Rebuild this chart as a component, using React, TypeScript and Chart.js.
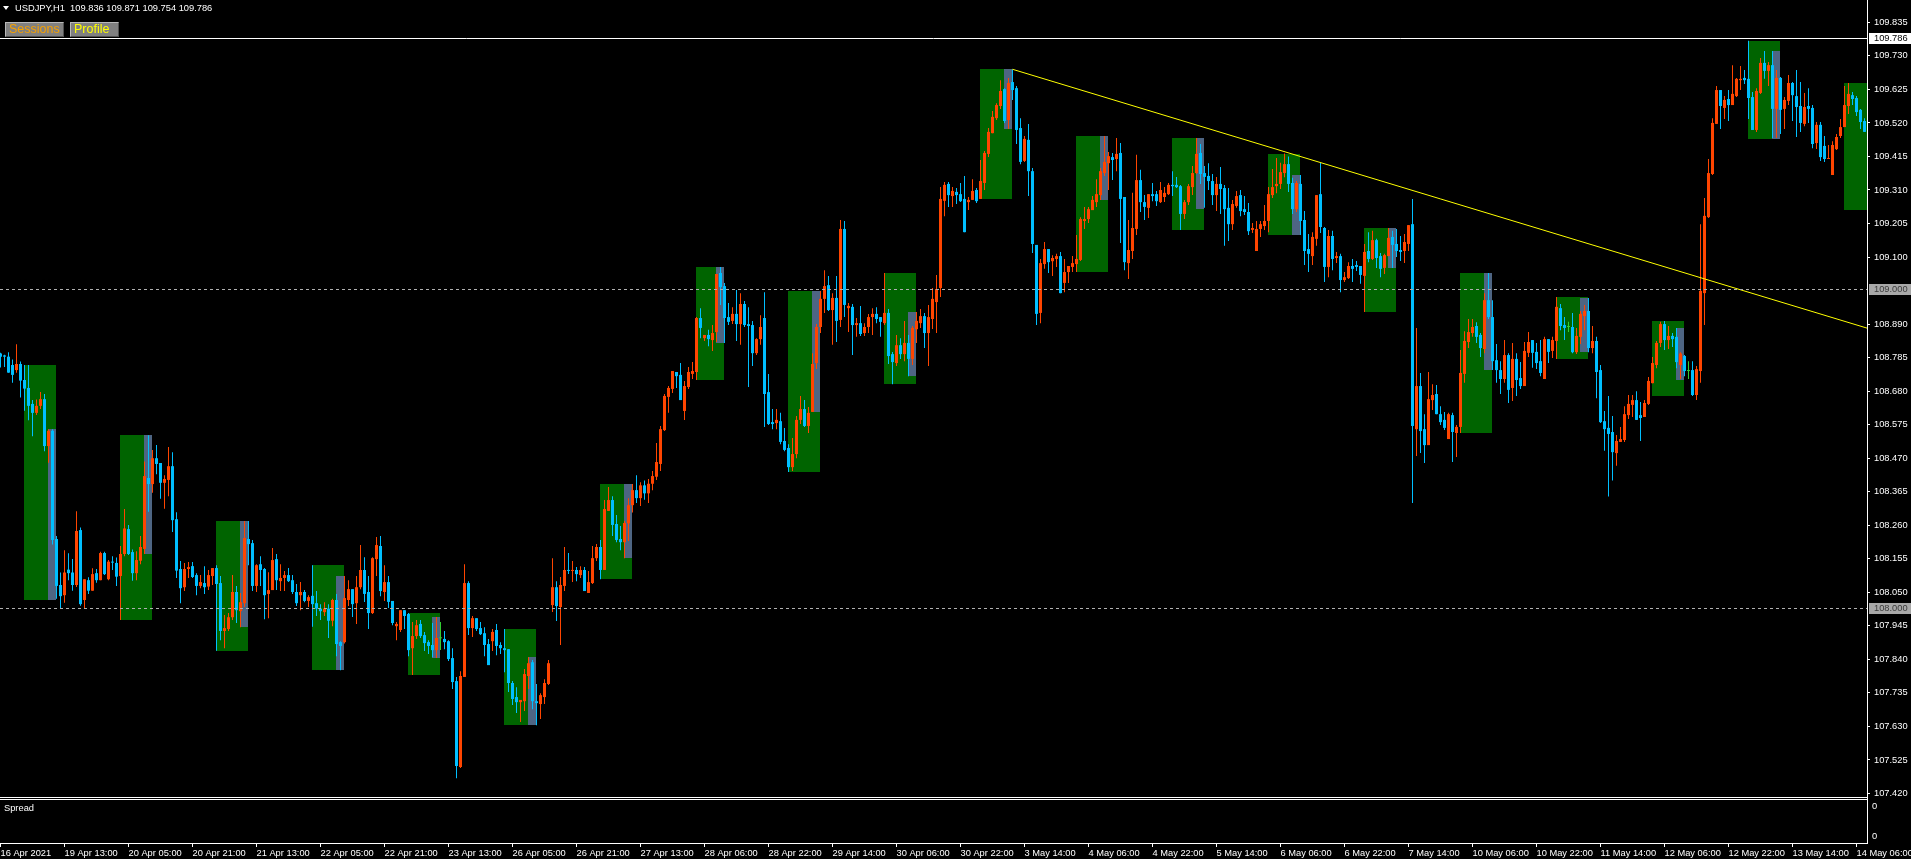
import React, { useEffect, useRef } from "react";
import { Chart, registerables } from "chart.js";

Chart.register(...registerables);

// ---------- data (USDJPY H1, bar index 0 = 16 Apr 2021 21:00) ----------
const opens = [
  108.798,108.792,108.788,108.762,108.746,108.765,108.715,108.690,108.640,108.612,
  108.634,108.655,108.508,108.556,108.217,108.073,108.041,108.121,108.112,108.073,
  108.245,108.026,108.088,108.055,108.110,108.088,108.173,108.091,108.146,108.142,
  108.101,108.170,108.248,108.176,108.110,108.149,108.186,108.408,108.389,108.470,
  108.455,108.393,108.402,108.445,108.279,108.123,108.066,108.123,108.132,108.104,
  108.070,108.079,108.068,108.101,108.126,108.079,107.929,107.935,107.972,108.051,
  107.991,108.016,108.217,108.204,108.070,108.138,108.123,108.045,108.057,108.154,
  108.085,108.095,108.104,108.088,108.051,108.041,108.051,108.023,108.039,108.016,
  107.999,107.988,107.999,107.961,108.026,107.894,107.894,108.026,108.060,108.016,
  108.066,108.120,108.051,107.985,108.154,108.195,108.051,108.082,108.023,107.944,
  107.932,107.994,107.982,107.875,107.913,107.951,107.916,107.894,107.885,107.869,
  107.906,107.904,107.897,107.844,107.772,107.503,107.785,108.079,107.938,107.969,
  107.938,107.922,107.888,107.897,107.932,107.885,107.875,107.872,107.766,107.722,
  107.706,107.709,107.788,107.831,107.709,107.700,107.722,107.763,108.010,108.066,
  108.004,108.070,108.120,108.117,108.120,108.104,108.120,108.048,108.079,108.157,
  108.192,108.120,108.305,108.339,108.264,108.217,108.207,108.266,108.323,108.370,
  108.345,108.385,108.360,108.390,108.412,108.452,108.558,108.662,108.687,108.740,
  108.731,108.618,108.693,108.734,108.740,108.909,108.846,108.856,108.840,108.865,
  109.050,109.009,108.912,108.900,108.922,108.890,108.953,108.890,108.887,108.799,
  108.843,108.909,108.677,108.583,108.580,108.586,108.524,108.502,108.442,108.483,
  108.590,108.624,108.571,108.615,108.768,108.881,108.969,109.012,108.934,108.972,
  108.903,109.188,108.940,108.944,108.887,108.893,108.862,108.881,108.912,108.922,
  108.912,108.893,108.925,108.796,108.768,108.824,108.796,108.831,108.781,108.874,
  108.893,108.915,108.862,108.906,108.959,109.003,109.276,109.329,109.291,109.304,
  109.297,109.282,109.272,109.279,109.310,109.282,109.332,109.423,109.488,109.535,
  109.573,109.626,109.529,109.648,109.629,109.504,109.401,109.467,109.369,109.138,
  108.925,109.078,109.125,109.087,109.094,109.103,109.019,109.053,109.069,109.078,
  109.091,109.213,109.219,109.247,109.272,109.294,109.363,109.394,109.413,109.407,
  109.426,109.288,109.081,109.119,109.188,109.341,109.272,109.254,109.297,109.297,
  109.272,109.288,109.297,109.326,109.326,109.322,109.235,109.272,109.319,109.363,
  109.426,109.363,109.354,109.338,109.294,109.329,109.316,109.254,109.203,109.260,
  109.294,109.250,109.241,109.185,109.119,109.188,109.197,109.213,109.294,109.322,
  109.329,109.363,109.391,109.332,109.250,109.329,109.216,109.125,109.103,109.157,
  109.297,109.191,109.069,109.166,109.097,109.103,109.028,109.034,109.072,109.075,
  109.072,109.041,109.119,109.094,109.153,109.103,109.066,109.103,109.163,109.141,
  109.122,109.119,109.141,109.203,108.561,108.696,108.561,108.511,108.652,108.671,
  108.608,108.590,108.530,108.605,108.549,108.568,108.734,108.834,108.862,108.884,
  108.856,108.812,108.965,108.912,108.777,108.746,108.718,108.793,108.690,108.781,
  108.721,108.696,108.800,108.840,108.803,108.774,108.718,108.843,108.806,108.837,
  108.940,108.887,108.881,108.881,108.802,108.850,108.915,108.931,108.815,108.837,
  108.746,108.586,108.565,108.552,108.486,108.521,108.527,108.605,108.637,108.652,
  108.605,108.599,108.640,108.705,108.762,108.831,108.890,108.840,108.853,108.850,
  108.762,108.790,108.743,108.746,108.668,108.743,108.987,109.225,109.360,109.517,
  109.623,109.567,109.595,109.576,109.604,109.654,109.661,109.658,109.601,109.498,
  109.614,109.708,109.683,109.701,109.564,109.661,109.564,109.589,109.645,109.604,
  109.573,109.517,109.573,109.567,109.457,109.514,109.448,109.407,109.357,109.438,
  109.479,109.507,109.573,109.607,109.598,109.561,109.526,
];

const highs = [
  108.800,108.794,108.802,108.779,108.827,108.773,108.762,108.762,108.652,108.654,
  108.677,108.671,108.561,108.561,108.226,108.112,108.182,108.172,108.154,108.304,
  108.253,108.091,108.097,108.125,108.123,108.177,108.177,108.151,108.163,108.159,
  108.195,108.311,108.261,108.184,108.179,108.226,108.460,108.542,108.496,108.511,
  108.455,108.417,108.505,108.489,108.301,108.148,108.142,108.145,108.145,108.110,
  108.104,108.132,108.120,108.126,108.135,108.101,107.979,107.985,108.104,108.070,
  108.048,108.273,108.273,108.214,108.138,108.163,108.126,108.113,108.189,108.170,
  108.138,108.117,108.126,108.104,108.076,108.082,108.057,108.041,108.135,108.054,
  108.013,108.019,108.013,108.030,108.045,107.897,108.101,108.088,108.060,108.101,
  108.198,108.160,108.101,108.160,108.223,108.226,108.135,108.101,108.023,107.957,
  107.994,107.994,107.985,107.957,107.963,107.963,107.926,107.900,107.954,107.973,
  107.957,107.929,107.900,107.875,107.785,107.803,108.138,108.085,107.976,107.969,
  107.957,107.941,107.904,107.935,107.951,107.894,107.935,107.872,107.772,107.753,
  107.713,107.810,107.847,107.838,107.763,107.734,107.778,107.838,108.157,108.085,
  108.098,108.192,108.173,108.148,108.129,108.132,108.129,108.117,108.195,108.201,
  108.214,108.339,108.380,108.351,108.292,108.258,108.273,108.345,108.389,108.417,
  108.395,108.400,108.405,108.430,108.518,108.571,108.671,108.696,108.743,108.740,
  108.768,108.712,108.756,108.771,108.912,108.940,108.856,108.872,108.887,109.047,
  109.069,109.019,108.956,108.943,108.997,108.987,108.962,108.943,108.900,108.846,
  108.918,108.990,108.734,108.624,108.624,108.612,108.565,108.514,108.533,108.602,
  108.665,108.652,108.630,108.799,108.890,108.994,109.059,109.041,108.987,109.041,
  109.216,109.213,108.956,108.953,108.909,108.947,108.893,108.922,108.940,108.943,
  108.912,109.050,108.937,108.803,108.856,108.846,108.900,108.856,108.884,108.928,
  108.937,108.925,108.950,109.003,109.044,109.319,109.335,109.335,109.319,109.316,
  109.332,109.354,109.288,109.344,109.316,109.404,109.432,109.504,109.557,109.582,
  109.654,109.629,109.661,109.688,109.636,109.535,109.479,109.517,109.379,109.138,
  109.094,109.147,109.125,109.106,109.110,109.116,109.094,109.072,109.103,109.169,
  109.225,109.257,109.257,109.291,109.344,109.379,109.479,109.429,109.426,109.473,
  109.457,109.288,109.216,109.301,109.420,109.373,109.294,109.297,109.332,109.307,
  109.335,109.319,109.332,109.369,109.351,109.326,109.279,109.329,109.385,109.473,
  109.454,109.385,109.394,109.360,109.351,109.382,109.326,109.316,109.279,109.307,
  109.310,109.291,109.269,109.207,109.213,109.213,109.263,109.319,109.376,109.410,
  109.395,109.424,109.415,109.348,109.338,109.357,109.244,109.172,109.178,109.294,
  109.395,109.194,109.185,109.182,109.116,109.110,109.053,109.084,109.094,109.088,
  109.072,109.141,109.178,109.182,109.157,109.113,109.110,109.191,109.182,109.188,
  109.166,109.172,109.200,109.282,108.878,108.737,108.608,108.740,108.702,108.699,
  108.633,108.615,108.612,108.612,108.574,108.809,108.868,108.906,108.906,108.896,
  108.862,108.987,109.050,108.965,108.828,108.774,108.840,108.799,108.831,108.799,
  108.771,108.834,108.865,108.840,108.831,108.840,108.850,108.843,108.850,108.975,
  108.953,108.912,108.897,108.925,108.878,108.931,108.950,108.972,108.884,108.850,
  108.762,108.618,108.665,108.602,108.543,108.568,108.633,108.668,108.668,108.680,
  108.646,108.652,108.724,108.787,108.837,108.897,108.900,108.884,108.862,108.878,
  108.802,108.793,108.774,108.774,108.759,109.203,109.285,109.407,109.535,109.636,
  109.623,109.604,109.623,109.701,109.661,109.698,109.686,109.777,109.617,109.629,
  109.723,109.745,109.711,109.745,109.686,109.664,109.601,109.670,109.648,109.686,
  109.648,109.614,109.629,109.576,109.523,109.523,109.479,109.451,109.463,109.485,
  109.532,109.636,109.645,109.617,109.604,109.564,109.535,
];

const lows = [
  108.754,108.756,108.738,108.706,108.738,108.660,108.619,108.589,108.539,108.605,
  108.624,108.492,108.456,108.200,108.030,108.000,108.017,108.088,108.055,108.067,
  108.008,108.000,108.045,108.055,108.080,108.088,108.104,108.088,108.120,108.070,
  107.963,108.163,108.167,108.086,108.088,108.138,108.170,108.302,108.362,108.420,
  108.343,108.312,108.351,108.239,108.095,108.016,108.054,108.095,108.095,108.041,
  108.063,108.045,108.057,108.073,107.867,107.900,107.875,107.929,107.963,107.954,
  107.941,108.004,108.135,108.054,108.051,108.070,107.966,107.969,108.057,108.057,
  108.054,108.054,108.082,108.045,108.007,107.994,108.019,108.004,107.942,107.976,
  107.963,107.976,107.907,107.944,107.850,107.806,107.890,108.007,107.973,107.951,
  108.060,108.020,107.935,107.982,108.101,108.038,108.023,108.001,107.947,107.900,
  107.926,107.935,107.850,107.791,107.904,107.907,107.866,107.857,107.847,107.844,
  107.869,107.872,107.835,107.747,107.468,107.500,107.785,107.916,107.910,107.929,
  107.916,107.850,107.822,107.866,107.853,107.857,107.800,107.738,107.697,107.672,
  107.644,107.678,107.747,107.684,107.634,107.653,107.700,107.760,107.988,107.960,
  107.885,108.054,108.107,108.082,108.085,108.095,108.054,108.048,108.076,108.148,
  108.091,108.120,108.305,108.226,108.207,108.182,108.157,108.211,108.300,108.330,
  108.320,108.340,108.330,108.370,108.402,108.430,108.555,108.612,108.674,108.690,
  108.652,108.590,108.687,108.718,108.715,108.846,108.837,108.821,108.806,108.834,
  108.950,108.831,108.887,108.890,108.837,108.825,108.881,108.693,108.759,108.793,
  108.825,108.568,108.574,108.561,108.561,108.514,108.492,108.427,108.430,108.470,
  108.577,108.568,108.549,108.615,108.749,108.862,108.925,108.931,108.825,108.834,
  108.881,108.912,108.865,108.793,108.850,108.853,108.853,108.862,108.856,108.893,
  108.850,108.887,108.765,108.702,108.759,108.781,108.774,108.727,108.762,108.831,
  108.878,108.815,108.759,108.875,108.862,108.975,109.228,109.257,109.257,109.266,
  109.272,109.178,109.247,109.279,109.269,109.282,109.310,109.413,109.488,109.529,
  109.564,109.520,109.501,109.592,109.454,109.391,109.398,109.291,109.113,108.887,
  108.893,109.063,109.050,109.041,109.069,108.987,108.990,109.019,109.053,109.053,
  109.088,109.188,109.207,109.247,109.257,109.279,109.354,109.310,109.341,109.369,
  109.144,109.059,109.031,109.094,109.169,109.241,109.216,109.222,109.275,109.260,
  109.269,109.272,109.294,109.291,109.316,109.185,109.219,109.263,109.294,109.360,
  109.329,109.254,109.310,109.263,109.244,109.235,109.135,109.150,109.185,109.254,
  109.228,109.232,109.169,109.175,109.119,109.163,109.185,109.178,109.285,109.300,
  109.313,109.350,109.304,109.235,109.241,109.169,109.075,109.053,109.075,109.135,
  109.175,109.022,109.037,109.059,109.081,108.990,109.022,109.031,109.022,109.056,
  109.016,108.928,109.084,109.091,109.066,109.037,109.047,109.103,109.066,109.100,
  109.088,109.081,109.119,108.330,108.477,108.486,108.455,108.511,108.621,108.608,
  108.574,108.558,108.530,108.458,108.474,108.549,108.706,108.815,108.850,108.831,
  108.787,108.799,108.906,108.746,108.706,108.671,108.706,108.643,108.649,108.665,
  108.687,108.696,108.787,108.753,108.749,108.727,108.718,108.768,108.784,108.781,
  108.871,108.840,108.865,108.799,108.796,108.828,108.871,108.802,108.799,108.658,
  108.580,108.493,108.350,108.400,108.446,108.521,108.521,108.593,108.599,108.590,
  108.524,108.599,108.637,108.705,108.752,108.818,108.809,108.812,108.818,108.752,
  108.718,108.727,108.718,108.665,108.652,108.706,108.887,109.222,109.357,109.517,
  109.501,109.532,109.526,109.576,109.601,109.623,109.642,109.532,109.498,109.492,
  109.611,109.658,109.636,109.473,109.473,109.485,109.501,109.576,109.526,109.476,
  109.492,109.510,109.520,109.441,109.438,109.401,109.398,109.407,109.357,109.435,
  109.473,109.507,109.548,109.576,109.542,109.501,109.492,
];

const closes = [
  108.788,108.788,108.738,108.731,108.765,108.713,108.688,108.634,108.612,108.634,
  108.655,108.508,108.556,108.214,108.070,108.038,108.112,108.110,108.073,108.242,
  108.013,108.091,108.055,108.107,108.088,108.173,108.107,108.146,108.143,108.099,
  108.170,108.250,108.170,108.110,108.151,108.192,108.414,108.389,108.470,108.452,
  108.393,108.405,108.445,108.276,108.118,108.063,108.123,108.129,108.098,108.070,
  108.082,108.066,108.104,108.126,108.076,107.929,107.938,107.972,108.051,107.994,
  108.019,108.220,108.201,108.070,108.135,108.120,108.041,108.057,108.151,108.088,
  108.095,108.104,108.085,108.051,108.016,108.051,108.023,108.035,108.013,107.999,
  107.991,107.999,107.961,108.026,107.888,107.882,108.032,108.060,108.013,108.066,
  108.120,108.045,107.985,108.157,108.198,108.054,108.082,108.020,107.954,107.951,
  107.994,107.976,107.869,107.913,107.947,107.913,107.891,107.882,107.869,107.907,
  107.906,107.894,107.841,107.769,107.506,107.788,108.079,107.938,107.969,107.935,
  107.919,107.885,107.822,107.926,107.882,107.875,107.869,107.766,107.716,107.706,
  107.713,107.794,107.828,107.709,107.703,107.728,107.766,107.828,108.066,108.007,
  108.073,108.120,108.117,108.120,108.107,108.120,108.054,108.082,108.157,108.192,
  108.120,108.311,108.339,108.261,108.214,108.207,108.267,108.323,108.370,108.345,
  108.385,108.360,108.390,108.414,108.458,108.561,108.665,108.690,108.743,108.727,
  108.652,108.696,108.740,108.743,108.909,108.878,108.856,108.843,108.862,109.047,
  109.006,108.909,108.897,108.922,108.890,108.953,108.887,108.884,108.799,108.843,
  108.881,108.671,108.577,108.577,108.590,108.521,108.496,108.442,108.483,108.590,
  108.624,108.571,108.612,108.765,108.881,108.969,109.009,108.934,108.972,108.900,
  109.188,108.950,108.947,108.887,108.893,108.859,108.881,108.912,108.922,108.906,
  108.897,108.925,108.790,108.771,108.824,108.796,108.831,108.781,108.878,108.900,
  108.915,108.862,108.912,108.969,109.000,109.282,109.326,109.294,109.307,109.294,
  109.275,109.178,109.279,109.307,109.275,109.338,109.426,109.492,109.539,109.576,
  109.620,109.526,109.645,109.623,109.498,109.398,109.470,109.369,109.141,108.922,
  109.081,109.125,109.084,109.097,109.103,108.987,109.053,109.072,109.081,109.094,
  109.219,109.219,109.250,109.279,109.297,109.369,109.398,109.416,109.404,109.423,
  109.282,109.084,109.122,109.191,109.341,109.272,109.257,109.297,109.291,109.275,
  109.310,109.301,109.326,109.322,109.319,109.235,109.272,109.322,109.363,109.423,
  109.360,109.351,109.338,109.294,109.329,109.313,109.250,109.203,109.266,109.291,
  109.244,109.241,109.181,109.191,109.188,109.203,109.213,109.297,109.319,109.329,
  109.366,109.391,109.329,109.250,109.332,109.213,109.119,109.110,109.163,109.294,
  109.194,109.069,109.166,109.094,109.103,109.028,109.037,109.072,109.063,109.069,
  109.044,109.116,109.094,109.153,109.097,109.063,109.106,109.160,109.138,109.119,
  109.116,109.147,109.200,108.571,108.696,108.555,108.511,108.655,108.668,108.608,
  108.583,108.565,108.608,108.552,108.568,108.737,108.837,108.865,108.881,108.850,
  108.815,108.965,108.912,108.774,108.746,108.718,108.793,108.684,108.781,108.715,
  108.696,108.806,108.834,108.800,108.768,108.737,108.843,108.803,108.840,108.944,
  108.884,108.878,108.881,108.802,108.853,108.922,108.931,108.815,108.837,108.740,
  108.583,108.561,108.546,108.489,108.524,108.530,108.608,108.640,108.652,108.590,
  108.596,108.643,108.712,108.768,108.831,108.890,108.840,108.853,108.843,108.771,
  108.798,108.743,108.743,108.668,108.749,108.994,109.229,109.363,109.520,109.623,
  109.573,109.592,109.576,109.611,109.658,109.658,109.654,109.598,109.498,109.620,
  109.708,109.683,109.701,109.564,109.661,109.561,109.592,109.645,109.607,109.570,
  109.520,109.570,109.564,109.454,109.514,109.413,109.407,109.410,109.451,109.476,
  109.507,109.576,109.611,109.595,109.554,109.523,109.492,
];

// time-axis labels and the bar index each one sits on
const xTickLabels = [
  "16 Apr 2021", "19 Apr 13:00", "20 Apr 05:00", "20 Apr 21:00", "21 Apr 13:00",
  "22 Apr 05:00", "22 Apr 21:00", "23 Apr 13:00", "26 Apr 05:00", "26 Apr 21:00",
  "27 Apr 13:00", "28 Apr 06:00", "28 Apr 22:00", "29 Apr 14:00", "30 Apr 06:00",
  "30 Apr 22:00", "3 May 14:00", "4 May 06:00", "4 May 22:00", "5 May 14:00",
  "6 May 06:00", "6 May 22:00", "7 May 14:00", "10 May 06:00", "10 May 22:00",
  "11 May 14:00", "12 May 06:00", "12 May 22:00", "13 May 14:00", "14 May 06:00",
];
const xTickIndex = [
  0, 16, 32, 48, 64, 80, 96, 112, 128, 144, 160, 176, 192, 208, 224,
  240, 256, 272, 288, 304, 320, 336, 352, 368, 384, 400, 416, 432, 448, 464,
];

const priceTicks = [
  109.835, 109.730, 109.625, 109.520, 109.415, 109.310, 109.205, 109.100,
  108.890, 108.785, 108.680, 108.575, 108.470, 108.365, 108.260, 108.155,
  108.050, 107.945, 107.840, 107.735, 107.630, 107.525, 107.420,
];

// "Sessions" indicator: session boxes (bar index from/to, high/low) and
// the "Profile" block at the end of each session
const sessionStart = [6, 30, 54, 78, 102, 126, 150, 174, 197, 221, 245, 269, 293, 317, 341, 365, 389, 413, 437, 461];
const sessionEnd = [14, 38, 62, 86, 110, 134, 158, 181, 205, 229, 253, 277, 301, 325, 349, 373, 397, 421, 445, 469];
const sessionHigh = [108.762, 108.542, 108.273, 108.135, 107.985, 107.935, 108.389, 109.069, 108.994, 109.050,
  109.689, 109.479, 109.473, 109.424, 109.191, 109.050, 108.975, 108.900, 109.777, 109.645];
const sessionLow = [108.030, 107.967, 107.869, 107.810, 107.794, 107.637, 108.095, 108.718, 108.430, 108.705,
  109.285, 109.056, 109.188, 109.172, 108.931, 108.552, 108.784, 108.668, 109.473, 109.251];
const profileHigh = [108.561, 108.542, 108.273, 108.101, 107.973, 107.847, 108.389, 109.069, 108.994, 108.928,
  109.689, 109.479, 109.473, 109.357, 109.191, 109.050, 108.972, 108.878, 109.745, null];
const profileLow = [108.030, 108.173, 107.944, 107.810, 107.847, 107.637, 108.160, 108.834, 108.618, 108.731,
  109.504, 109.282, 109.254, 109.172, 109.069, 108.749, 108.806, 108.718, 109.473, null];

const levelLines = [109.0, 108.0];
const bidPrice = 109.786;
const trendX = [253, 467];
const trendY = [109.688, 108.876];

const headerSymbol = "USDJPY,H1";
const headerOHLC = [109.836, 109.871, 109.754, 109.786];

// ---------- view / style ----------
const W = 1911;
const MAIN_H = 798;
const SUB_H = 61;
const AXIS_W = 44;
const X_MIN = -0.125;
const X_MAX = 466.625;
const Y_MIN = 107.409;
const Y_MAX = 109.905;
const PROFILE_BARS = 2;
const FONT = "'Liberation Sans', Arial, sans-serif";
const AXIS_FONT_SIZE = 9.3;
const UP = "#ff4500";
const DOWN = "#00bfff";
const DOJI = "#32cd32";
const BOX = "#006400";
const PROFILE = "#4e6583";
const LEVEL = "#b0b0b0";

const candleColors = opens.map((o, i) => (closes[i] > o ? UP : closes[i] < o ? DOWN : DOJI));

const sessionsPlugin = {
  id: "sessions",
  beforeDatasetsDraw(chart: any) {
    const { ctx, chartArea: a, scales } = chart;
    const xs = scales.x, ys = scales.y;
    ctx.save();
    ctx.beginPath();
    ctx.rect(a.left, a.top, a.right - a.left, a.bottom - a.top);
    ctx.clip();
    sessionStart.forEach((s, k) => {
      const x1 = Math.floor(xs.getPixelForValue(s));
      const x2 = Math.floor(xs.getPixelForValue(sessionEnd[k]));
      const y1 = Math.round(ys.getPixelForValue(sessionHigh[k]));
      const y2 = Math.round(ys.getPixelForValue(sessionLow[k]));
      ctx.fillStyle = BOX;
      ctx.fillRect(x1, y1, x2 - x1, y2 - y1 + 1);
      const ph = profileHigh[k], pl = profileLow[k];
      if (ph != null && pl != null) {
        const g1 = Math.floor(xs.getPixelForValue(sessionEnd[k] - PROFILE_BARS));
        const gy1 = Math.round(ys.getPixelForValue(ph));
        const gy2 = Math.round(ys.getPixelForValue(pl));
        ctx.fillStyle = PROFILE;
        ctx.fillRect(g1, gy1, x2 - g1, gy2 - gy1 + 1);
      }
    });
    ctx.restore();
  },
};

const linesPlugin = {
  id: "lines",
  afterDatasetsDraw(chart: any) {
    const { ctx, chartArea: a, scales } = chart;
    const ys = scales.y;
    ctx.save();
    ctx.lineWidth = 1;
    ctx.strokeStyle = LEVEL;
    ctx.setLineDash([3, 3]);
    levelLines.forEach((p) => {
      const y = Math.round(ys.getPixelForValue(p)) + 0.5;
      ctx.beginPath();
      ctx.moveTo(a.left, y);
      ctx.lineTo(a.right, y);
      ctx.stroke();
    });
    ctx.setLineDash([]);
    ctx.strokeStyle = "#ffffff";
    const yb = Math.round(ys.getPixelForValue(bidPrice)) + 0.5;
    ctx.beginPath();
    ctx.moveTo(a.left, yb);
    ctx.lineTo(a.right, yb);
    ctx.stroke();
    ctx.restore();
  },
  afterDraw(chart: any) {
    const { ctx, chartArea: a, scales } = chart;
    const ys = scales.y;
    ctx.save();
    // bottom frame of the main window
    ctx.strokeStyle = "#ffffff";
    ctx.lineWidth = 1;
    ctx.beginPath();
    ctx.moveTo(0, a.bottom + 0.5);
    ctx.lineTo(a.right + 1, a.bottom + 0.5);
    ctx.moveTo(a.right + 0.5, a.top);
    ctx.lineTo(a.right + 0.5, chart.height);
    ctx.stroke();
    // price labels on the axis
    ctx.font = `${AXIS_FONT_SIZE}px ${FONT}`;
    ctx.textBaseline = "middle";
    ctx.textAlign = "left";
    const tag = (p: number, bg: string, fg: string) => {
      const y = Math.round(ys.getPixelForValue(p));
      ctx.fillStyle = bg;
      ctx.fillRect(a.right + 2, y - 5, W - a.right - 2, 11);
      ctx.fillStyle = fg;
      ctx.fillText(p.toFixed(3), a.right + 7, y + 0.5);
    };
    levelLines.forEach((p) => tag(p, "#a8a8a8", "#3a3a3a"));
    tag(bidPrice, "#ffffff", "#000000");
    ctx.restore();
  },
};

const subFramePlugin = {
  id: "subFrame",
  afterDraw(chart: any) {
    const { ctx, chartArea: a } = chart;
    ctx.save();
    ctx.strokeStyle = "#ffffff";
    ctx.lineWidth = 1;
    ctx.beginPath();
    ctx.moveTo(0, a.top + 0.5);
    ctx.lineTo(a.right + 1, a.top + 0.5);
    ctx.moveTo(a.right + 0.5, 0);
    ctx.lineTo(a.right + 0.5, a.top);
    ctx.stroke();
    ctx.restore();
  },
};

function mainConfig(): any {
  return {
    type: "bar",
    data: {
      datasets: [
        {
          type: "bar",
          label: "wicks",
          data: highs.map((h, i) => ({ x: i, y: [lows[i], h] })),
          backgroundColor: candleColors,
          barThickness: 1,
          minBarLength: 1,
          grouped: false,
          inflateAmount: 0,
          borderWidth: 0,
          order: 3,
        },
        {
          type: "bar",
          label: "bodies",
          data: opens.map((o, i) => ({ x: i, y: [o, closes[i]] })),
          backgroundColor: candleColors,
          barThickness: 3,
          minBarLength: 1,
          grouped: false,
          inflateAmount: 0,
          borderWidth: 0,
          order: 2,
        },
        {
          type: "line",
          label: "trend",
          data: trendX.map((x, i) => ({ x, y: trendY[i] })),
          borderColor: "#ffff00",
          borderWidth: 1,
          pointRadius: 0,
          fill: false,
          tension: 0,
          order: 1,
        },
      ],
    },
    options: {
      animation: false,
      responsive: false,
      devicePixelRatio: 1,
      events: [],
      layout: { padding: { left: 0, right: 0, top: 0, bottom: 1 } },
      plugins: { legend: { display: false }, tooltip: { enabled: false }, title: { display: false } },
      scales: {
        x: { type: "linear", display: false, min: X_MIN, max: X_MAX, offset: false },
        y: {
          type: "linear",
          position: "right",
          min: Y_MIN,
          max: Y_MAX,
          afterBuildTicks: (s: any) => {
            s.ticks = priceTicks.map((v) => ({ value: v }));
          },
          afterFit: (s: any) => {
            s.width = AXIS_W;
            s.paddingTop = 0;
            s.paddingBottom = 0;
          },
          ticks: {
            color: "#ffffff",
            font: { family: FONT, size: AXIS_FONT_SIZE },
            padding: 4,
            autoSkip: false,
            callback: (v: any) => Number(v).toFixed(3),
          },
          grid: { display: true, drawOnChartArea: false, drawTicks: true, tickLength: 3, color: "#ffffff" },
          border: { display: true, color: "#ffffff", width: 1 },
        },
      },
    },
    plugins: [sessionsPlugin, linesPlugin],
  };
}

function subConfig(): any {
  return {
    type: "line",
    data: { datasets: [] },
    options: {
      animation: false,
      responsive: false,
      devicePixelRatio: 1,
      events: [],
      layout: { padding: { left: 0, right: 0, top: 1, bottom: 0 } },
      plugins: { legend: { display: false }, tooltip: { enabled: false }, title: { display: false } },
      scales: {
        x: {
          type: "linear",
          position: "bottom",
          min: X_MIN,
          max: X_MAX,
          offset: false,
          afterBuildTicks: (s: any) => {
            s.ticks = xTickIndex.map((v) => ({ value: v }));
          },
          afterFit: (s: any) => {
            s.height = 16;
            s.paddingLeft = 0;
            s.paddingRight = 0;
          },
          ticks: {
            color: "#ffffff",
            font: { family: FONT, size: AXIS_FONT_SIZE },
            align: "start",
            autoSkip: false,
            maxRotation: 0,
            minRotation: 0,
            padding: 1,
            callback: (_v: any, idx: number) => xTickLabels[idx],
          },
          grid: { display: true, drawOnChartArea: false, drawTicks: true, tickLength: 4, color: "#ffffff" },
          border: { display: true, color: "#ffffff", width: 1 },
        },
        y: {
          type: "linear",
          position: "right",
          min: 0,
          max: 1,
          afterBuildTicks: (s: any) => {
            s.ticks = [{ value: 0.825 }, { value: 0.143 }];
          },
          afterFit: (s: any) => {
            s.width = AXIS_W;
            s.paddingTop = 0;
            s.paddingBottom = 0;
          },
          ticks: {
            color: "#ffffff",
            font: { family: FONT, size: AXIS_FONT_SIZE },
            padding: 5,
            callback: () => "0",
          },
          grid: { display: false, drawTicks: false },
          border: { display: true, color: "#ffffff", width: 1 },
        },
      },
    },
    plugins: [subFramePlugin],
  };
}

export default function App() {
  const mainRef = useRef<HTMLCanvasElement>(null);
  const subRef = useRef<HTMLCanvasElement>(null);

  useEffect(() => {
    document.body.style.margin = "0";
    document.body.style.background = "#000";
    const main = new Chart(mainRef.current as HTMLCanvasElement, mainConfig());
    const sub = new Chart(subRef.current as HTMLCanvasElement, subConfig());
    return () => {
      main.destroy();
      sub.destroy();
    };
  }, []);

  const btn: any = {
    position: "absolute",
    top: 22,
    height: 15,
    boxSizing: "border-box",
    background: "#808080",
    borderStyle: "solid",
    borderWidth: 1,
    borderColor: "#b8b8b8 #505050 #505050 #b8b8b8",
    font: `12.5px ${FONT}`,
    lineHeight: "13px",
    paddingLeft: 3,
    whiteSpace: "pre",
  };

  return (
    <div
      style={{
        position: "fixed",
        left: 0,
        top: 0,
        width: W,
        height: MAIN_H + SUB_H,
        background: "#000",
        overflow: "hidden",
      }}
    >
      <canvas
        ref={mainRef}
        width={W}
        height={MAIN_H}
        style={{ position: "absolute", left: 0, top: 0, width: W, height: MAIN_H }}
      />
      <canvas
        ref={subRef}
        width={W}
        height={SUB_H}
        style={{ position: "absolute", left: 0, top: MAIN_H, width: W, height: SUB_H }}
      />
      <div
        style={{
          position: "absolute",
          left: 3,
          top: 6,
          width: 0,
          height: 0,
          borderLeft: "3px solid transparent",
          borderRight: "3px solid transparent",
          borderTop: "4px solid #ffffff",
        }}
      />
      <div
        style={{
          position: "absolute",
          left: 15,
          top: 3,
          color: "#ffffff",
          font: `9.3px ${FONT}`,
          lineHeight: "10px",
          whiteSpace: "pre",
        }}
      >
        {`${headerSymbol}  ${headerOHLC.map((v) => v.toFixed(3)).join(" ")}`}
      </div>
      <div style={{ ...btn, left: 5, width: 59, color: "#f5a000" }}>Sessions</div>
      <div style={{ ...btn, left: 70, width: 49, color: "#ffff00" }}>Profile</div>
      <div
        style={{
          position: "absolute",
          left: 4,
          top: MAIN_H + 5,
          color: "#ffffff",
          font: `9.3px ${FONT}`,
          lineHeight: "10px",
        }}
      >
        Spread
      </div>
    </div>
  );
}
